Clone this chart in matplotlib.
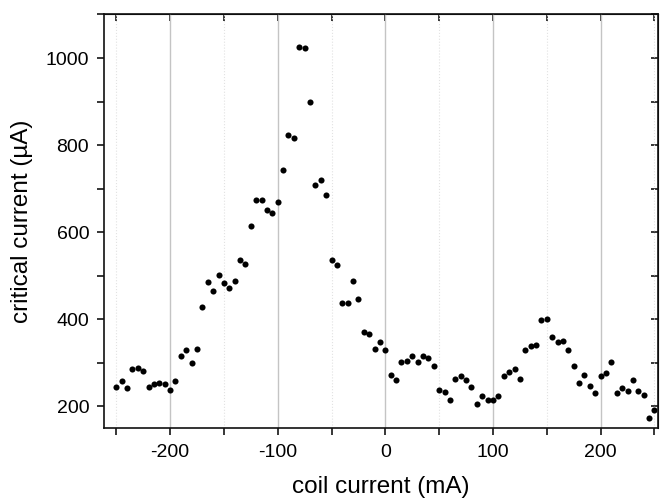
import matplotlib
matplotlib.use("Agg")
import matplotlib.pyplot as plt
from matplotlib.ticker import MultipleLocator

plt.rcParams["font.family"] = ["Liberation Sans", "DejaVu Sans"]
plt.rcParams["axes.unicode_minus"] = False

# coil current (mA)
coil = [-250, -245, -240, -235, -230, -225, -220, -215, -210, -205,
        -200, -195, -190, -185, -180, -175, -170, -165, -160, -155,
        -150, -145, -140, -135, -130, -125, -120, -115, -110, -105,
        -100, -95, -90, -85, -80, -75, -70, -65, -60, -55,
        -50, -45, -40, -35, -30, -25, -20, -15, -10, -5,
        0, 5, 10, 15, 20, 25, 30, 35, 40, 45,
        50, 55, 60, 65, 70, 75, 80, 85, 90, 95,
        100, 105, 110, 115, 120, 125, 130, 135, 140, 145,
        150, 155, 160, 165, 170, 175, 180, 185, 190, 195,
        200, 205, 210, 215, 220, 225, 230, 235, 240, 245, 250]

# critical current (uA)
crit = [245, 258, 242, 285, 288, 281, 245, 251, 255, 251,
        239, 258, 315, 329, 300, 333, 429, 486, 465, 501,
        483, 471, 489, 537, 528, 615, 673, 673, 652, 645,
        670, 742, 824, 817, 1026, 1022, 899, 709, 721, 685,
        537, 525, 438, 438, 489, 447, 371, 366, 331, 347,
        330, 272, 261, 303, 305, 315, 303, 315, 311, 293,
        239, 233, 215, 263, 269, 261, 245, 206, 224, 215,
        215, 224, 269, 279, 285, 263, 330, 338, 341, 398,
        402, 360, 348, 351, 330, 293, 254, 272, 248, 230,
        269, 278, 303, 230, 242, 236, 261, 236, 227, 173, 191]

fig = plt.figure(figsize=(6.65, 4.98), dpi=100)
ax = fig.add_axes([0.157, 0.140, 0.832, 0.831])

ax.plot(coil, crit, "o", color="black", markersize=4.4, markeredgewidth=0)

ax.set_xlim(-261, 253)
ax.set_ylim(150, 1100)

ax.xaxis.set_major_locator(MultipleLocator(100))
ax.xaxis.set_minor_locator(MultipleLocator(50))
ax.yaxis.set_major_locator(MultipleLocator(200))
ax.yaxis.set_minor_locator(MultipleLocator(100))

# vertical grid only: solid at labelled ticks, dotted in between
ax.grid(True, which="major", axis="x", color="#c4c4c4", linewidth=1.0, linestyle="-")
ax.grid(True, which="minor", axis="x", color="#e2e2e2", linewidth=0.8, linestyle=":")
ax.set_axisbelow(True)

for s in ax.spines.values():
    s.set_linewidth(1.2)
    s.set_color("#111111")

ax.tick_params(which="both", direction="out", length=5, width=1.1, labelsize=14,
               top=False, right=False, pad=6)
ax2 = ax.secondary_xaxis("top")
ax2.xaxis.set_major_locator(MultipleLocator(50))
ax2.tick_params(direction="in", length=5, width=1.1, labeltop=False)
ax3 = ax.secondary_yaxis("right")
ax3.yaxis.set_major_locator(MultipleLocator(100))
ax3.tick_params(direction="in", length=5, width=1.1, labelright=False)

ax.set_xlabel("coil current (mA)", fontsize=17.5, labelpad=11)
ax.set_ylabel("critical current (µA)", fontsize=17.5, labelpad=9)

fig.savefig("out.png", dpi=100)
